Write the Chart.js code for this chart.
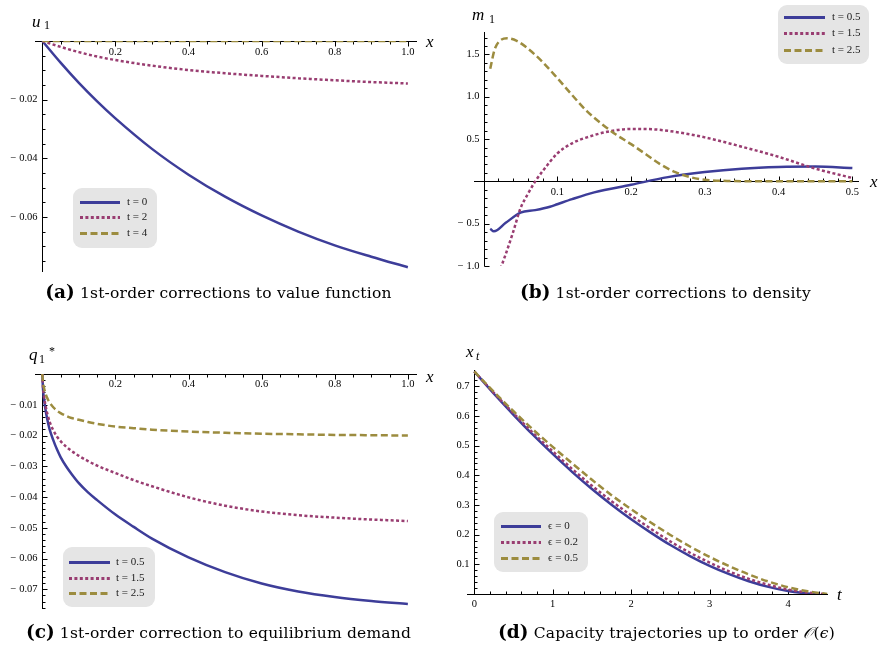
<!DOCTYPE html>
<html>
<head>
<meta charset="utf-8">
<script src="https://cdn.jsdelivr.net/npm/chart.js@4.4.1/dist/chart.umd.min.js"></script>
<style>
  body { margin: 0; background: #fff; }
  #page { position: relative; width: 882px; height: 652px; overflow: hidden; }
  #page canvas { position: absolute; }
  .cap { position: absolute; width: 441px; text-align: center; font-family: "DejaVu Serif", serif; font-size: 15.5px; line-height: 20px; letter-spacing: 0.2px; color: #000; white-space: nowrap; }
  .cap b { font-size: 18.5px; letter-spacing: 0; }
</style>
</head>
<body>
<div id="page">
  <canvas id="chartA" width="441" height="320" style="left:0;top:0"></canvas>
  <canvas id="chartB" width="441" height="320" style="left:441px;top:0"></canvas>
  <canvas id="chartC" width="441" height="332" style="left:0;top:320px"></canvas>
  <canvas id="chartD" width="441" height="332" style="left:441px;top:320px"></canvas>
  <div class="cap" style="left:-2px;top:282px"><b>(a)</b> 1st-order corrections to value function</div>
  <div class="cap" style="left:445px;top:282px"><b>(b)</b> 1st-order corrections to density</div>
  <div class="cap" style="left:-2px;top:622px"><b>(c)</b> 1st-order correction to equilibrium demand</div>
  <div class="cap" style="left:446px;top:622px"><b>(d)</b> Capacity trajectories up to order <i>𝒪</i>(<i>ϵ</i>)</div>
</div>
<script>
// (a) value function corrections u1(x)
const aX = [0, 0.05, 0.1, 0.15, 0.2, 0.3, 0.4, 0.5, 0.6, 0.7, 0.8, 0.9, 1.0];
const aT0 = [0, -0.0074, -0.0143, -0.0206, -0.0264, -0.0368, -0.0456, -0.0531, -0.0595, -0.065, -0.0697, -0.0736, -0.0772];
const aT2 = [0, -0.002, -0.0038, -0.0053, -0.0065, -0.0084, -0.0099, -0.011, -0.0119, -0.0127, -0.0134, -0.014, -0.0145];
const aT4 = [0, 0, 0, 0, 0, 0, 0, 0, 0, 0, 0, 0, 0];
const aXTicks = [0.2, 0.4, 0.6, 0.8, 1.0];
const aXLabels = ['0.2', '0.4', '0.6', '0.8', '1.0'];
const aYTicks = [-0.02, -0.04, -0.06];
const aYLabels = ['\u2212 0.02', '\u2212 0.04', '\u2212 0.06'];

// (b) density corrections m1(x)
const bX05 = [0.009, 0.014, 0.03, 0.05, 0.07, 0.09, 0.1, 0.12, 0.15, 0.2, 0.25, 0.3, 0.35, 0.4, 0.45, 0.5];
const bT05 = [-0.56, -0.59, -0.49, -0.37, -0.34, -0.30, -0.27, -0.21, -0.13, -0.04, 0.05, 0.11, 0.15, 0.17, 0.175, 0.158];
const bX15 = [0.023, 0.03, 0.04, 0.05, 0.06, 0.07, 0.08, 0.1, 0.12, 0.14, 0.17, 0.2, 0.23, 0.26, 0.3, 0.35, 0.4, 0.45, 0.5];
const bT15 = [-1.03, -0.86, -0.6, -0.32, -0.15, 0.0, 0.12, 0.33, 0.45, 0.52, 0.59, 0.62, 0.615, 0.585, 0.52, 0.41, 0.29, 0.15, 0.04];
const bX25 = [0.009, 0.015, 0.022, 0.032, 0.045, 0.06, 0.08, 0.1, 0.12, 0.14, 0.16, 0.18, 0.2, 0.22, 0.24, 0.26, 0.28, 0.3, 0.33, 0.4, 0.5];
const bT25 = [1.33, 1.56, 1.66, 1.69, 1.66, 1.57, 1.41, 1.22, 1.02, 0.83, 0.68, 0.55, 0.44, 0.32, 0.2, 0.11, 0.05, 0.02, 0.005, 0, 0];
const bXTicks = [0.1, 0.2, 0.3, 0.4, 0.5];
const bXLabels = ['0.1', '0.2', '0.3', '0.4', '0.5'];
const bYTicks = [-1.0, -0.5, 0.5, 1.0, 1.5];
const bYLabels = ['\u2212 1.0', '\u2212 0.5', '0.5', '1.0', '1.5'];

// (c) equilibrium demand correction q1*(x)
const cX = [0, 0.002, 0.005, 0.01, 0.015, 0.02, 0.03, 0.04, 0.05, 0.065, 0.08, 0.1, 0.125, 0.15, 0.2, 0.25, 0.3, 0.4, 0.5, 0.6, 0.7, 0.8, 0.9, 1.0];
const cT05 = [0, -0.005, -0.0085, -0.0125, -0.0155, -0.018, -0.0215, -0.0245, -0.027, -0.030, -0.0325, -0.0355, -0.0385, -0.041, -0.0457, -0.0497, -0.0535, -0.0596, -0.0644, -0.0681, -0.0707, -0.0725, -0.0738, -0.0748];
const cT15 = [0, -0.0045, -0.0075, -0.011, -0.0135, -0.0155, -0.0183, -0.0203, -0.0218, -0.0236, -0.025, -0.0266, -0.0283, -0.0298, -0.0322, -0.0345, -0.0365, -0.0401, -0.0428, -0.0447, -0.0459, -0.0467, -0.0473, -0.0478];
const cT25 = [0, -0.0028, -0.0047, -0.0068, -0.0082, -0.0093, -0.0108, -0.0119, -0.0127, -0.0136, -0.0143, -0.0149, -0.0156, -0.0162, -0.0171, -0.0176, -0.0181, -0.0187, -0.0191, -0.0194, -0.0196, -0.0198, -0.0199, -0.0200];
const cXTicks = [0.2, 0.4, 0.6, 0.8, 1.0];
const cXLabels = ['0.2', '0.4', '0.6', '0.8', '1.0'];
const cYTicks = [-0.01, -0.02, -0.03, -0.04, -0.05, -0.06, -0.07];
const cYLabels = ['\u2212 0.01', '\u2212 0.02', '\u2212 0.03', '\u2212 0.04', '\u2212 0.05', '\u2212 0.06', '\u2212 0.07'];

// (d) capacity trajectories x_t
const dX0 = [0, 0.25, 0.5, 0.75, 1, 1.25, 1.5, 1.75, 2, 2.25, 2.5, 2.75, 3, 3.25, 3.5, 3.75, 4, 4.25, 4.4];
const dE0 = [0.75, 0.675, 0.604, 0.536, 0.472, 0.411, 0.354, 0.301, 0.252, 0.207, 0.165, 0.128, 0.095, 0.067, 0.043, 0.024, 0.010, 0.002, 0];
const dX2 = [0, 0.25, 0.5, 0.75, 1, 1.25, 1.5, 1.75, 2, 2.25, 2.5, 2.75, 3, 3.25, 3.5, 3.75, 4, 4.25, 4.45];
const dE2 = [0.75, 0.678, 0.609, 0.543, 0.481, 0.421, 0.365, 0.313, 0.265, 0.220, 0.177, 0.139, 0.106, 0.076, 0.051, 0.031, 0.015, 0.005, 0];
const dX5 = [0, 0.25, 0.5, 0.75, 1, 1.25, 1.5, 1.75, 2, 2.25, 2.5, 2.75, 3, 3.25, 3.5, 3.75, 4, 4.25, 4.5];
const dE5 = [0.75, 0.681, 0.616, 0.554, 0.496, 0.440, 0.385, 0.333, 0.286, 0.241, 0.199, 0.160, 0.125, 0.094, 0.066, 0.042, 0.023, 0.009, 0];
const dXTicks = [0, 1, 2, 3, 4];
const dXLabels = ['0', '1', '2', '3', '4'];
const dYTicks = [0.1, 0.2, 0.3, 0.4, 0.5, 0.6, 0.7];
const dYLabels = ['0.1', '0.2', '0.3', '0.4', '0.5', '0.6', '0.7'];

const BLUE = '#3d3d99';
const PURPLE = '#993d71';
const GOLD = '#9c8c3f';
const SOLID = { color: BLUE, dash: [], order: 2 };
const DOTTED = { color: PURPLE, dash: [3, 2.4], order: 1 };
const DASHED = { color: GOLD, dash: [7, 3.5], order: 0 };

const SERIF = '"Liberation Serif", "Times New Roman", serif';

function series(label, xs, ys, style) {
    return {
        label: label,
        data: xs.map((x, i) => ({ x: x, y: ys[i] })),
        borderColor: style.color,
        borderDash: style.dash,
        borderWidth: 2.5,
        borderCapStyle: 'butt',
        pointRadius: 0,
        fill: false,
        order: style.order,
        cubicInterpolationMode: 'monotone'
    };
}

// Mathematica-style axes crossing at the origin, plus the grey legend box
const mathAxes = {
    id: 'mathAxes',
    beforeDatasetsDraw(chart, args, o) {
        const ctx = chart.ctx;
        const area = chart.chartArea;
        const xs = chart.scales.x, ys = chart.scales.y;
        const ox = Math.round(xs.getPixelForValue(0)) + 0.5;
        const oy = Math.round(ys.getPixelForValue(0)) + 0.5;

        ctx.save();
        ctx.strokeStyle = '#000';
        ctx.lineWidth = 1;
        ctx.beginPath();
        ctx.moveTo(area.left, oy);
        ctx.lineTo(area.right, oy);
        ctx.moveTo(ox, area.top);
        ctx.lineTo(ox, area.bottom);

        // minor ticks
        for (let k = Math.ceil(xs.min / o.xMinor); k * o.xMinor <= xs.max + 1e-9; k++) {
            if (k === 0) continue;
            const px = Math.round(xs.getPixelForValue(k * o.xMinor)) + 0.5;
            ctx.moveTo(px, oy);
            ctx.lineTo(px, oy + o.xDir * 3);
        }
        for (let k = Math.ceil(ys.min / o.yMinor); k * o.yMinor <= ys.max + 1e-9; k++) {
            if (k === 0) continue;
            const py = Math.round(ys.getPixelForValue(k * o.yMinor)) + 0.5;
            ctx.moveTo(ox, py);
            ctx.lineTo(ox + 3, py);
        }
        // major ticks
        o.xTicks.forEach(v => {
            const px = Math.round(xs.getPixelForValue(v)) + 0.5;
            ctx.moveTo(px, oy);
            ctx.lineTo(px, oy + o.xDir * 5);
        });
        o.yTicks.forEach(v => {
            const py = Math.round(ys.getPixelForValue(v)) + 0.5;
            ctx.moveTo(ox, py);
            ctx.lineTo(ox + 5, py);
        });
        ctx.stroke();

        // tick labels
        ctx.fillStyle = '#000';
        ctx.font = '10.5px ' + SERIF;
        ctx.textBaseline = 'middle';
        ctx.textAlign = 'center';
        o.xTicks.forEach((v, i) => ctx.fillText(o.xLabels[i], xs.getPixelForValue(v), oy + o.xLabelDY));
        ctx.textAlign = 'right';
        o.yTicks.forEach((v, i) => ctx.fillText(o.yLabels[i], ox - 5, ys.getPixelForValue(v)));

        // axis titles
        ctx.textAlign = 'left';
        ctx.textBaseline = 'alphabetic';
        o.titles.forEach(t => {
            ctx.font = t.font + ' ' + SERIF;
            ctx.fillText(t.text, t.x, t.y);
        });
        ctx.restore();
    },
    afterDatasetsDraw(chart, args, o) {
        const ctx = chart.ctx;
        const lg = o.legend;
        ctx.save();
        ctx.fillStyle = '#e5e5e5';
        ctx.beginPath();
        ctx.roundRect(lg.x, lg.y, lg.w, lg.h, 9);
        ctx.fill();
        chart.data.datasets.forEach((ds, i) => {
            const ry = lg.rows[i] + 0.5;
            ctx.strokeStyle = ds.borderColor;
            ctx.lineWidth = 3;
            ctx.setLineDash(ds.borderDash);
            ctx.beginPath();
            ctx.moveTo(lg.x0, ry);
            ctx.lineTo(lg.x1, ry);
            ctx.stroke();
            ctx.setLineDash([]);
            ctx.fillStyle = '#222';
            ctx.font = '11px ' + SERIF;
            ctx.textAlign = 'left';
            ctx.textBaseline = 'middle';
            ctx.fillText(ds.label, lg.tx, lg.rows[i]);
        });
        ctx.restore();
    }
};

function makePanel(id, datasets, xr, yr, padding, axes) {
    return new Chart(document.getElementById(id), {
        type: 'line',
        data: { datasets: datasets },
        options: {
            responsive: false,
            animation: false,
            events: [],
            layout: { padding: padding },
            scales: {
                x: { type: 'linear', min: xr[0], max: xr[1], display: false },
                y: { type: 'linear', min: yr[0], max: yr[1], display: false }
            },
            plugins: {
                legend: { display: false },
                tooltip: { enabled: false },
                mathAxes: axes
            }
        },
        plugins: [mathAxes]
    });
}

makePanel('chartA', [
    series('t = 0', aX, aT0, SOLID),
    series('t = 2', aX, aT2, DOTTED),
    series('t = 4', aX, aT4, DASHED)
], [-0.02, 1.025], [-0.0788, 0], { left: 35, right: 24, top: 41, bottom: 48 }, {
    xTicks: aXTicks, xLabels: aXLabels, yTicks: aYTicks, yLabels: aYLabels,
    xMinor: 0.05, yMinor: 0.005, xDir: 1, xLabelDY: 11,
    titles: [
        { text: 'u', font: 'italic 17px', x: 32, y: 27 },
        { text: '1', font: '12px', x: 44, y: 29 },
        { text: 'x', font: 'italic 17px', x: 426, y: 47 }
    ],
    legend: { x: 73, y: 188, w: 84, h: 60, rows: [202, 217, 233], x0: 80, x1: 120, tx: 127 }
});

makePanel('chartB', [
    series('t = 0.5', bX05, bT05, SOLID),
    series('t = 1.5', bX15, bT15, DOTTED),
    series('t = 2.5', bX25, bT25, DASHED)
], [-0.013, 0.509], [-1.0, 1.765], { left: 33, right: 23, top: 32, bottom: 54 }, {
    xTicks: bXTicks, xLabels: bXLabels, yTicks: bYTicks, yLabels: bYLabels,
    xMinor: 0.02, yMinor: 0.1, xDir: -1, xLabelDY: 11,
    titles: [
        { text: 'm', font: 'italic 17px', x: 31, y: 20 },
        { text: '1', font: '12px', x: 48, y: 23 },
        { text: 'x', font: 'italic 17px', x: 429, y: 187 }
    ],
    legend: { x: 337, y: 5, w: 91, h: 59, rows: [17, 33, 50], x0: 343, x1: 384, tx: 391 }
});

makePanel('chartC', [
    series('t = 0.5', cX, cT05, SOLID),
    series('t = 1.5', cX, cT15, DOTTED),
    series('t = 2.5', cX, cT25, DASHED)
], [-0.02, 1.025], [-0.0764, 0], { left: 35, right: 24, top: 54, bottom: 43 }, {
    xTicks: cXTicks, xLabels: cXLabels, yTicks: cYTicks, yLabels: cYLabels,
    xMinor: 0.05, yMinor: 0.002, xDir: 1, xLabelDY: 10,
    titles: [
        { text: 'q', font: 'italic 17px', x: 29, y: 40 },
        { text: '1', font: '12px', x: 39, y: 43 },
        { text: '*', font: '12px', x: 49, y: 35 },
        { text: 'x', font: 'italic 17px', x: 426, y: 62 }
    ],
    legend: { x: 63, y: 227, w: 92, h: 60, rows: [242, 258, 273], x0: 69, x1: 110, tx: 116 }
});

makePanel('chartD', [
    series('\u03f5 = 0', dX0, dE0, SOLID),
    series('\u03f5 = 0.2', dX2, dE2, DOTTED),
    series('\u03f5 = 0.5', dX5, dE5, DASHED)
], [-0.093, 4.51], [0, 0.755], { left: 26, right: 54, top: 50, bottom: 58 }, {
    xTicks: dXTicks, xLabels: dXLabels, yTicks: dYTicks, yLabels: dYLabels,
    xMinor: 0.2, yMinor: 0.02, xDir: -1, xLabelDY: 10,
    titles: [
        { text: 'x', font: 'italic 17px', x: 25, y: 37 },
        { text: 't', font: 'italic 12px', x: 35, y: 40 },
        { text: 't', font: 'italic 17px', x: 396, y: 280 }
    ],
    legend: { x: 53, y: 192, w: 94, h: 60, rows: [206, 222, 238], x0: 60, x1: 100, tx: 107 }
});
</script>
</body>
</html>
